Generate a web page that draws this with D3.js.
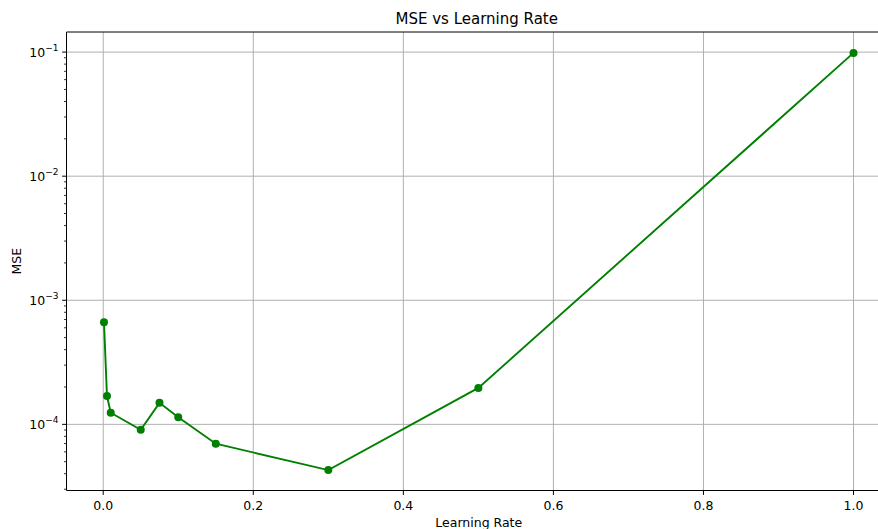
<!DOCTYPE html>
<html>
<head>
<meta charset="utf-8">
<script src="https://cdn.jsdelivr.net/npm/d3@7"></script>
<style>
  html, body { margin: 0; padding: 0; background: #fff; }
  svg { display: block; font-family: 'DejaVu Sans', sans-serif; }
</style>
</head>
<body>
<div id="chart"></div>
<script>
const learningRates= [0.001, 0.005, 0.01, 0.05, 0.075, 0.1, 0.15, 0.3, 0.5, 1.0];
const mseValues= [6.65e-4, 1.69e-4, 1.24e-4, 9.05e-5, 1.49e-4, 1.14e-4, 6.98e-5, 4.28e-5, 1.965e-4, 0.0985];
const xTicks= [0.0, 0.2, 0.4, 0.6, 0.8, 1.0];
const yTickExps= [-4, -3, -2, -1];

const W= 878, H= 529;
const mLeft= 66.5, mTop= 32, mBottom= 490.5, mRight= 891;

const svg= d3.select('#chart').append('svg')
  .attr('width', W).attr('height', H);

const x= d3.scaleLinear().domain([-0.04895, 1.04995]).range([mLeft, mRight]);
const y= d3.scaleLog().domain([2.93e-5, 0.1452]).range([mBottom, mTop]);

// grid
svg.append('g').selectAll('line').data(xTicks).join('line')
  .attr('x1', d => x(d)).attr('x2', d => x(d))
  .attr('y1', mTop).attr('y2', mBottom)
  .attr('stroke', '#b0b0b0').attr('stroke-width', 1);
svg.append('g').selectAll('line').data(yTickExps).join('line')
  .attr('x1', mLeft).attr('x2', mRight)
  .attr('y1', d => y(Math.pow(10, d))).attr('y2', d => y(Math.pow(10, d)))
  .attr('stroke', '#b0b0b0').attr('stroke-width', 1);

// line + markers
const line= d3.line().x((d, i) => x(learningRates[i])).y(d => y(d));
svg.append('path').datum(mseValues)
  .attr('d', line)
  .attr('fill', 'none').attr('stroke', 'green').attr('stroke-width', 1.9);
svg.append('g').selectAll('circle').data(mseValues).join('circle')
  .attr('cx', (d, i) => x(learningRates[i])).attr('cy', d => y(d))
  .attr('r', 4).attr('fill', 'green');

// spines
svg.append('line').attr('x1', mLeft).attr('x2', mLeft).attr('y1', mTop).attr('y2', mBottom)
  .attr('stroke', '#000').attr('stroke-width', 1);
svg.append('line').attr('x1', mLeft).attr('x2', mRight).attr('y1', mTop).attr('y2', mTop)
  .attr('stroke', '#000').attr('stroke-width', 1);
svg.append('line').attr('x1', mLeft).attr('x2', mRight).attr('y1', mBottom).attr('y2', mBottom)
  .attr('stroke', '#000').attr('stroke-width', 1);

// x ticks
const gx= svg.append('g');
gx.selectAll('line').data(xTicks).join('line')
  .attr('x1', d => x(d)).attr('x2', d => x(d))
  .attr('y1', mBottom).attr('y2', mBottom+4.4)
  .attr('stroke', '#000').attr('stroke-width', 1);
gx.selectAll('text').data(xTicks).join('text')
  .attr('x', d => x(d)).attr('y', 510)
  .attr('text-anchor', 'middle').attr('font-size', 12.5).attr('fill', '#000')
  .text(d => d.toFixed(1));

// y ticks
const minor= [];
for (let e= -5; e <= -1; e++) {
  for (let m= 2; m <= 9; m++) {
    const v= m*Math.pow(10, e);
    if (v >= y.domain()[0] && v <= y.domain()[1]) minor.push(v);
  }
}
const gy= svg.append('g');
gy.selectAll('line.minor').data(minor).join('line')
  .attr('class', 'minor')
  .attr('x1', mLeft-2.5).attr('x2', mLeft)
  .attr('y1', d => y(d)).attr('y2', d => y(d))
  .attr('stroke', '#000').attr('stroke-width', 0.8);
gy.selectAll('line.major').data(yTickExps).join('line')
  .attr('class', 'major')
  .attr('x1', mLeft-4.4).attr('x2', mLeft)
  .attr('y1', d => y(Math.pow(10, d))).attr('y2', d => y(Math.pow(10, d)))
  .attr('stroke', '#000').attr('stroke-width', 1);
const yl= gy.selectAll('text').data(yTickExps).join('text')
  .attr('x', mLeft-8).attr('y', d => y(Math.pow(10, d))+4.5)
  .attr('text-anchor', 'end').attr('font-size', 12.5).attr('fill', '#000');
yl.append('tspan').text('10');
yl.append('tspan').attr('dy', -6).attr('font-size', 9).text(d => '\u2212'+Math.abs(d));

// labels
svg.append('text').attr('x', (mLeft+mRight)/2-2).attr('y', 24)
  .attr('text-anchor', 'middle').attr('font-size', 15).attr('fill', '#000')
  .text('MSE vs Learning Rate');
svg.append('text').attr('x', (mLeft+mRight)/2).attr('y', 527)
  .attr('text-anchor', 'middle').attr('font-size', 12.5).attr('fill', '#000')
  .text('Learning Rate');
svg.append('text')
  .attr('transform', `translate(21,${(mTop+mBottom)/2}) rotate(-90)`)
  .attr('text-anchor', 'middle').attr('font-size', 12.5).attr('fill', '#000')
  .text('MSE');
</script>
</body>
</html>
